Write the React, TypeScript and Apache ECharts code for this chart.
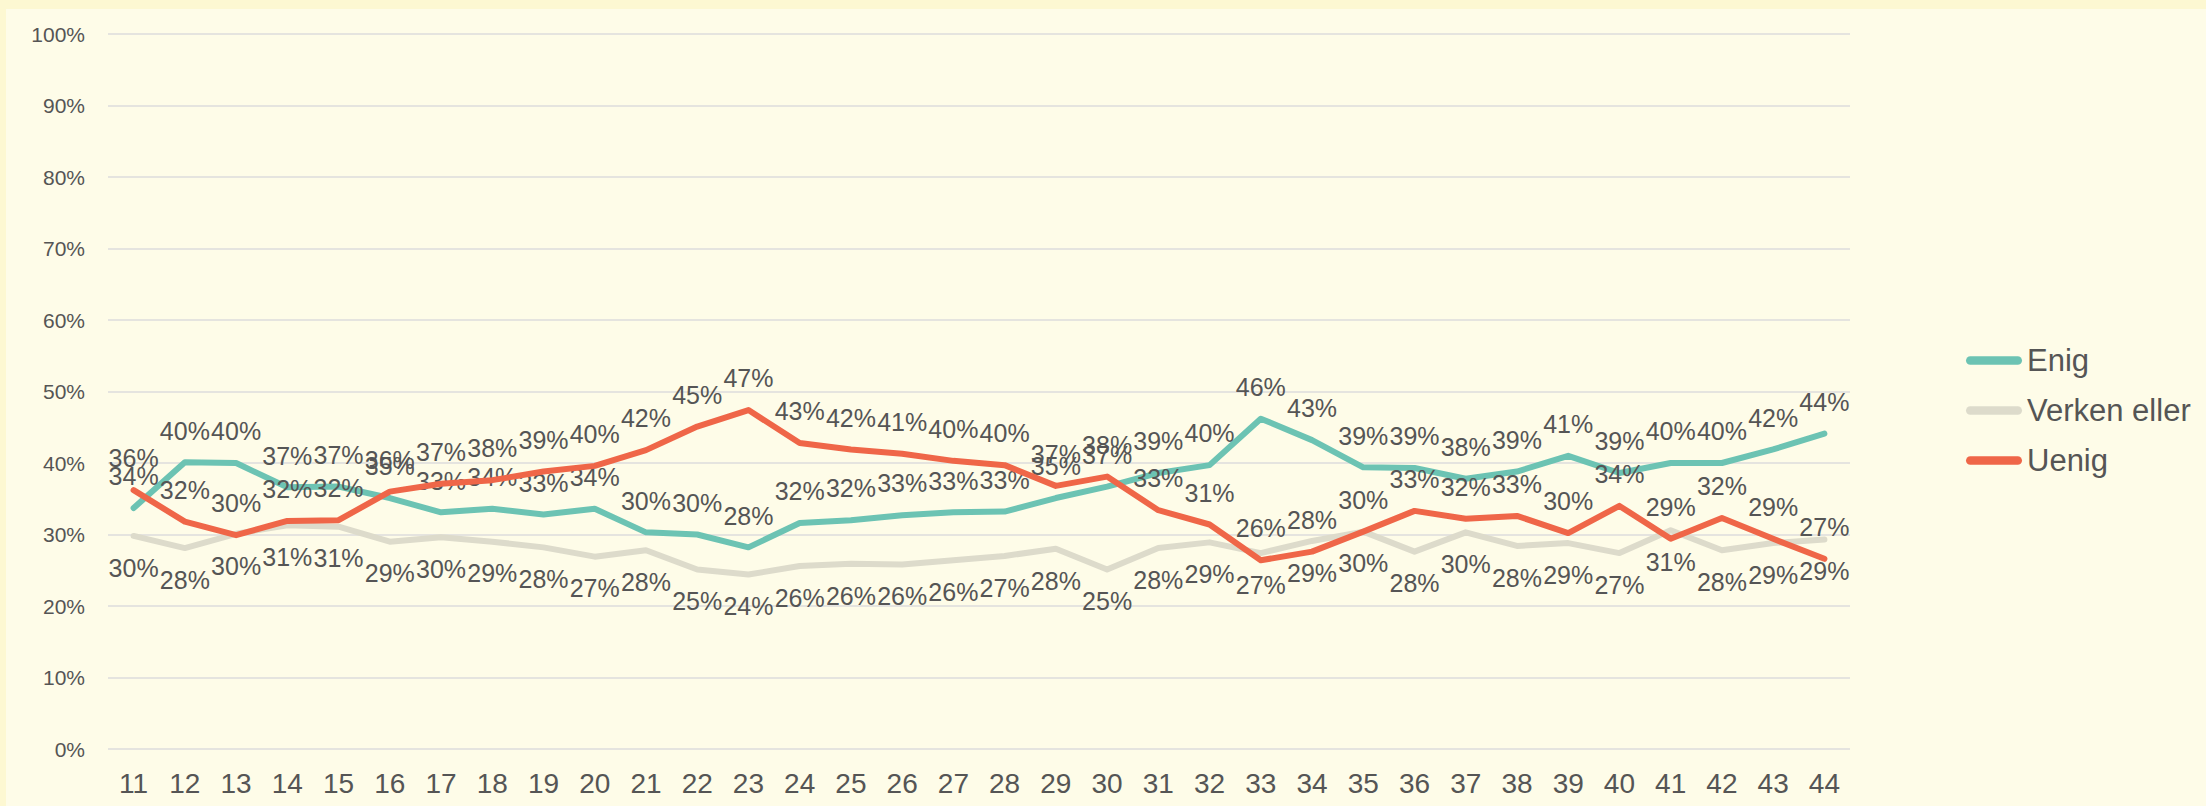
import React, { useEffect, useRef } from "react";
import * as echarts from "echarts";

const weeks = ["11","12","13","14","15","16","17","18","19","20","21","22","23","24","25","26","27","28","29","30","31","32","33","34","35","36","37","38","39","40","41","42","43","44"];

const enig = [33.7,40.1,40.0,36.6,36.7,35.1,33.1,33.6,32.8,33.6,30.3,30.0,28.2,31.6,32.0,32.7,33.1,33.2,35.1,36.7,38.6,39.7,46.2,43.2,39.4,39.3,37.8,38.8,41.0,38.6,40.0,40.0,41.9,44.1];
const verken = [29.8,28.1,30.1,31.3,31.1,29.0,29.6,29.0,28.2,26.9,27.8,25.1,24.4,25.6,25.9,25.8,26.4,27.0,28.0,25.1,28.1,28.9,27.4,29.1,30.4,27.6,30.3,28.4,28.8,27.4,30.6,27.8,28.8,29.3];
const uenig = [36.2,31.8,29.9,31.9,32.0,36.0,37.1,37.6,38.8,39.6,41.8,45.1,47.4,42.8,41.9,41.3,40.3,39.7,36.8,38.1,33.4,31.4,26.4,27.6,30.4,33.3,32.2,32.6,30.2,34.0,29.4,32.3,29.4,26.6];

const seriesNames = ["Enig", "Verken eller", "Uenig"];
const seriesColors = ["#6CC3B3", "#DDDBCB", "#EF6648"];

const FONT = "Arial, 'Liberation Sans', sans-serif";
const TEXT = "#555555";
const LEGEND_ICON = "path://M5,0 H60 A5,5 0 0 1 60,10 H5 A5,5 0 0 1 5,0 Z";

export default function App() {
  const ref = useRef<HTMLDivElement>(null);
  useEffect(() => {
    if (!ref.current) return;
    const chart = echarts.init(ref.current, undefined, { renderer: "svg" });
    const data = [enig, verken, uenig];
    const positions = ["top", "bottom", "top"];
    chart.setOption({
      animation: false,
      backgroundColor: "#FDF8D2",
      textStyle: { fontFamily: FONT },
      graphic: [
        {
          type: "rect",
          z: -10,
          silent: true,
          shape: { x: 6, y: 9, width: 2200, height: 797 },
          style: { fill: "#FEFCE8" },
        },
      ],
      grid: { left: 108, right: 356, top: 34, bottom: 57, containLabel: false },
      legend: {
        orient: "vertical",
        left: 1961,
        top: 340,
        itemWidth: 56,
        itemHeight: 9,
        itemGap: 19,
        icon: LEGEND_ICON,
        textStyle: { fontSize: 31, color: TEXT, fontFamily: FONT },
        data: seriesNames,
      },
      xAxis: {
        type: "category",
        data: weeks,
        boundaryGap: true,
        axisLine: { show: false },
        axisTick: { show: false },
        axisLabel: { fontSize: 28, color: TEXT, margin: 20, fontFamily: FONT, interval: 0 },
      },
      yAxis: {
        type: "value",
        min: 0,
        max: 100,
        interval: 10,
        axisLine: { show: false },
        axisTick: { show: false },
        splitLine: { lineStyle: { color: "#E5E4DF", width: 2 } },
        axisLabel: { fontSize: 21, color: TEXT, margin: 23, formatter: "{value}%", fontFamily: FONT },
      },
      series: seriesNames.map((name, i) => ({
        name,
        type: "line",
        data: data[i],
        symbol: "circle",
        symbolSize: 0.5,
        showSymbol: true,
        z: 2 + i,
        itemStyle: { color: seriesColors[i] },
        lineStyle: { color: seriesColors[i], width: 6, cap: "round", join: "round" },
        label: {
          show: true,
          position: positions[i],
          distance: 19,
          fontSize: 25,
          color: TEXT,
          fontFamily: FONT,
          formatter: (p: any) => Math.round(p.value) + "%",
        },
        labelLayout: { hideOverlap: false },
      })),
    });
    return () => chart.dispose();
  }, []);
  return (
    <div
      ref={ref}
      style={{ position: "fixed", left: 0, top: 0, width: 2206, height: 806 }}
    />
  );
}
